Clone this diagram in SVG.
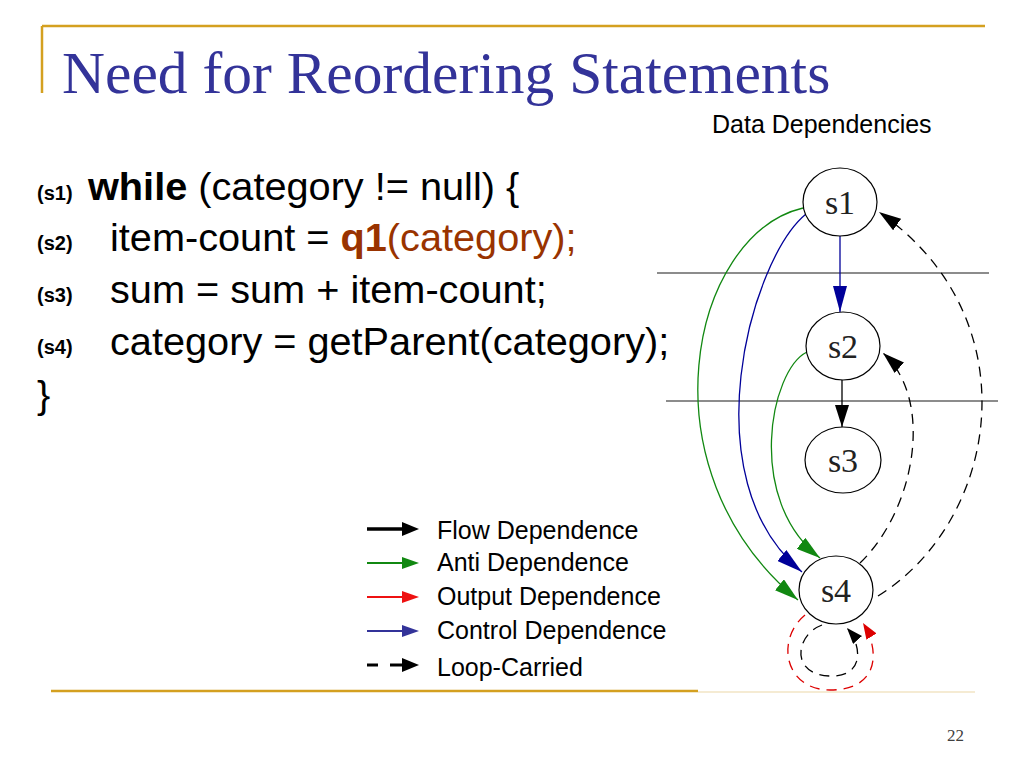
<svg xmlns="http://www.w3.org/2000/svg" width="1024" height="768" viewBox="0 0 1024 768">
<style>
.title{font-family:"Liberation Serif","Times New Roman",serif;font-size:59.5px;fill:#333399}
.code{font-family:"Liberation Sans",Arial,sans-serif;font-size:39.7px;fill:#000}
.lab{font-family:"Liberation Sans",Arial,sans-serif;font-size:20px;font-weight:bold;fill:#000}
.sans{font-family:"Liberation Sans",Arial,sans-serif;font-size:25px;fill:#000}
.node ellipse{fill:#fff;stroke:#000;stroke-width:1.2}
.node text{font-family:"Liberation Serif","Times New Roman",serif;font-size:34px;fill:#222;text-anchor:middle}
.e{fill:none;stroke-width:1.3}
.dash{stroke-dasharray:10,7}
.sep{stroke:#666;stroke-width:1.3}
.gold{stroke:#D4A020;stroke-width:2.5}
</style>
<defs>
<marker id="aBlue" markerUnits="userSpaceOnUse" markerWidth="26" markerHeight="14" refX="26" refY="7" orient="auto"><path d="M0,0 L26,7 L0,14 z" fill="#000099"/></marker>
<marker id="aGreen" markerUnits="userSpaceOnUse" markerWidth="24" markerHeight="14" refX="24" refY="7" orient="auto"><path d="M0,0 L24,7 L0,14 z" fill="#118811"/></marker>
<marker id="aBlack" markerUnits="userSpaceOnUse" markerWidth="22" markerHeight="14" refX="22" refY="7" orient="auto"><path d="M0,0 L22,7 L0,14 z" fill="#000"/></marker>
<marker id="aBlackS" markerUnits="userSpaceOnUse" markerWidth="16" markerHeight="12" refX="16" refY="6" orient="auto"><path d="M0,0 L16,6 L0,12 z" fill="#000"/></marker>
<marker id="aRedS" markerUnits="userSpaceOnUse" markerWidth="16" markerHeight="12" refX="16" refY="6" orient="auto"><path d="M0,0 L16,6 L0,12 z" fill="#dd0000"/></marker>
</defs>
<rect width="1024" height="768" fill="#fff"/>

<!-- slide frame -->
<line class="gold" x1="42" y1="26" x2="985" y2="26"/>
<line class="gold" x1="42" y1="26" x2="42" y2="93"/>
<line class="gold" x1="51" y1="691" x2="698" y2="691"/>
<line x1="698" y1="692" x2="975" y2="692" stroke="#F2E4C4" stroke-width="1.5"/>

<text class="title" x="62" y="93">Need for Reordering Statements</text>
<text class="sans" x="712" y="133">Data Dependencies</text>

<!-- code -->
<text class="lab" x="37" y="200">(s1)</text>
<text class="code" x="88" y="200"><tspan font-weight="bold">while</tspan> (category != null) {</text>
<text class="lab" x="37" y="250">(s2)</text>
<text class="code" x="110" y="251">item-count = <tspan font-weight="bold" fill="#993300">q1</tspan><tspan fill="#993300">(category);</tspan></text>
<text class="lab" x="37" y="302">(s3)</text>
<text class="code" x="110" y="303">sum = sum + item-count;</text>
<text class="lab" x="37" y="354">(s4)</text>
<text class="code" x="110" y="355">category = getParent(category);</text>
<text class="code" x="37" y="408">}</text>

<!-- separators -->
<line class="sep" x1="657" y1="273" x2="989" y2="273"/>
<line class="sep" x1="666" y1="401" x2="998" y2="401"/>

<!-- connectors -->
<g id="connectors">
<path class="e" stroke="#000099" d="M840,236 L840,312" marker-end="url(#aBlue)"/>
<path class="e" stroke="#000" d="M842,380 L842,427" marker-end="url(#aBlack)"/>
<path class="e" stroke="#118811" d="M803,208 C690,235 640,470 798,600" marker-end="url(#aGreen)"/>
<path class="e" stroke="#000099" d="M806,214 C750,260 690,480 802,572" marker-end="url(#aBlue)"/>
<path class="e" stroke="#118811" d="M807,352 C770,370 745,500 820,558" marker-end="url(#aGreen)"/>
<path class="e dash" stroke="#000" d="M878,596 C1000,520 1032,318 879,212" marker-end="url(#aBlack)"/>
<path class="e dash" stroke="#000" d="M860,563 C915,510 935,400 883,353" marker-end="url(#aBlack)"/>
<path class="e dash" stroke="#000" d="M822,625 C795,635 790,675 830,676 C865,677 862,645 847,628" marker-end="url(#aBlackS)"/>
<path class="e dash" stroke="#dd0000" d="M805,615 C775,640 785,690 830,690 C880,690 880,650 863,623" marker-end="url(#aRedS)"/>
</g>

<!-- nodes -->
<g id="s1" class="node"><ellipse cx="840" cy="202" rx="37" ry="34"/><text x="840" y="214">s1</text></g>
<g id="s2" class="node"><ellipse cx="843" cy="346" rx="37" ry="34"/><text x="843" y="358">s2</text></g>
<g id="s3" class="node"><ellipse cx="843" cy="460" rx="38" ry="33"/><text x="843" y="472">s3</text></g>
<g id="s4" class="node"><ellipse cx="836" cy="590" rx="37" ry="34"/><text x="836" y="602">s4</text></g>

<!-- legend -->
<g id="legend">
<line x1="367" y1="529" x2="404" y2="529" stroke="#000" stroke-width="3.5"/>
<path d="M402,522 L419,529 L402,536 z" fill="#000"/>
<text class="sans" x="437" y="539">Flow Dependence</text>
<line x1="367" y1="563" x2="404" y2="563" stroke="#118811" stroke-width="2"/>
<path d="M402,557 L419,563 L402,569 z" fill="#118811"/>
<text class="sans" x="437" y="571">Anti Dependence</text>
<line x1="367" y1="597" x2="404" y2="597" stroke="#ee1111" stroke-width="2"/>
<path d="M402,591 L419,597 L402,603 z" fill="#ee1111"/>
<text class="sans" x="437" y="605">Output Dependence</text>
<line x1="367" y1="631" x2="404" y2="631" stroke="#333399" stroke-width="2"/>
<path d="M402,625 L419,631 L402,637 z" fill="#333399"/>
<text class="sans" x="437" y="639">Control Dependence</text>
<line x1="367" y1="665" x2="378" y2="665" stroke="#000" stroke-width="3"/>
<line x1="390" y1="665" x2="404" y2="665" stroke="#000" stroke-width="3"/>
<path d="M402,658 L419,665 L402,672 z" fill="#000"/>
<text class="sans" x="437" y="676">Loop-Carried</text>
</g>

<text x="947" y="741" font-family="Liberation Serif,Times New Roman,serif" font-size="17" fill="#404040">22</text>
</svg>
